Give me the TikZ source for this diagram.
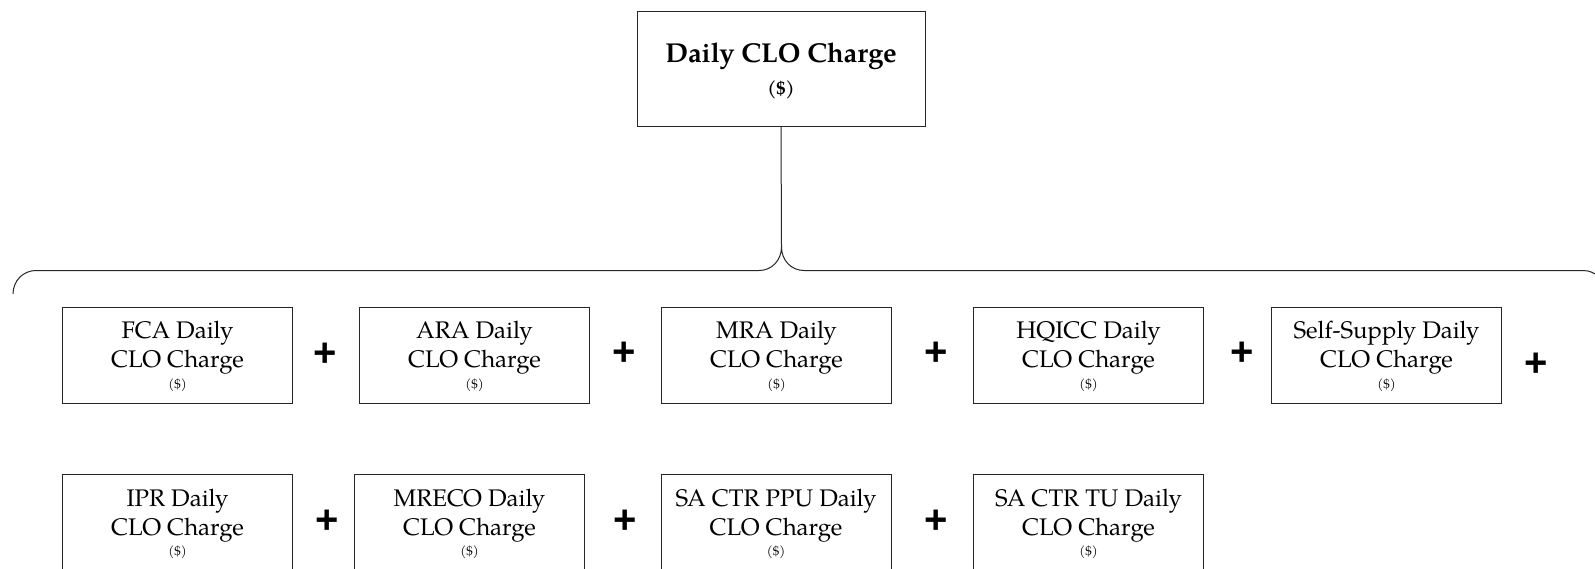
\documentclass[tikz,border=0pt]{standalone}
\usepackage{fontspec}
\setmainfont{TeX Gyre Pagella}
\newfontfamily\plusfont{Liberation Sans}
\tikzset{
  ln/.style={draw=black!85, line width=1pt},
  cbox/.style={ln, minimum width=230pt, minimum height=96pt, inner sep=0pt, anchor=north west},
  lab/.style={font=\fontsize{24}{28}\selectfont, inner sep=0pt, anchor=base},
  sm/.style={font=\fontsize{13}{15}\selectfont, inner sep=0pt},
  plussign/.style={font=\plusfont\bfseries\fontsize{40}{40}\selectfont, inner sep=0pt}
}
\newcommand\cbox[4]{%
  \node[cbox] (#1) at (#2,#3) {};
  \node[lab] (#1-a) at ([yshift=-32pt]#1.north) {#4};
  \node[lab] (#1-b) at ([yshift=-61pt]#1.north) {CLO Charge};
  \node[sm] (#1-c) at ([yshift=-78.5pt]#1.north) {(\$)};
}
\begin{document}
\begin{tikzpicture}[x=1pt,y=-1pt]
\useasboundingbox (0,0) rectangle (1595,568);
\clip (0,0) rectangle (1595,568);
% top box
\node[ln, minimum width=288pt, minimum height=115pt, inner sep=0pt] (top) at (781,68.5) {};
\node[font=\bfseries\fontsize{27.3}{30}\selectfont, inner sep=0pt, anchor=base] (title) at ([yshift=-52pt]top.north) {Daily CLO Charge};
\node[font=\bfseries\fontsize{18.5}{20}\selectfont, inner sep=0pt] (unit) at ([yshift=-79pt]top.north) {(\$)};
% brace
\coordinate (cusp) at (781.5,247);
\coordinate (lend) at (13,294);
\coordinate (rend) at (1606,294);
\draw[ln] (top.south) -- (cusp);
\draw[ln] (lend) .. controls (13,281) and (23,270.5) .. (36,270.5) -- (759,270.5)
  .. controls (772,270.5) and (781.5,260) .. (cusp)
  .. controls (781.5,260) and (791,270.5) .. (804,270.5) -- (1583,270.5)
  .. controls (1596,270.5) and (1606,281) .. (rend);
% row 1
\cbox{fca}{62}{306.5}{FCA Daily}
\cbox{ara}{359}{306.5}{ARA Daily}
\cbox{mra}{661}{306.5}{MRA Daily}
\cbox{hq}{973}{306.5}{HQICC Daily}
\cbox{ss}{1271}{306.5}{Self-Supply Daily}
\node[plussign] (p1) at (325,355) {+};
\node[plussign] (p2) at (624.5,354) {+};
\node[plussign] (p3) at (936,354) {+};
\node[plussign] (p4) at (1242,354) {+};
\node[plussign] (p5) at (1536.5,365) {+};
% row 2
\cbox{ipr}{62}{474}{IPR Daily}
\cbox{mreco}{354}{474}{MRECO Daily}
\cbox{ppu}{660.5}{474}{SA CTR PPU Daily}
\cbox{tu}{973}{474}{SA CTR TU Daily}
\node[plussign] (q1) at (327,522) {+};
\node[plussign] (q2) at (625,522) {+};
\node[plussign] (q3) at (936,522) {+};
\end{tikzpicture}
\end{document}
